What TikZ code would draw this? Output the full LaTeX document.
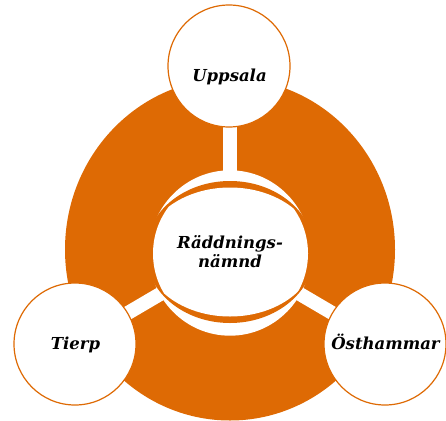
\documentclass[tikz,border=0pt]{standalone}
\usepackage{fontspec}
\setmainfont{DejaVu Serif}
\definecolor{org}{RGB}{222,106,4}
\tikzset{
  lbl/.style={font=\fontsize{16.5}{18.3}\selectfont\bfseries\itshape, text=black, inner sep=0pt},
  sat/.style={circle, draw=org, line width=1.2pt, fill=white, minimum size=122pt, inner sep=0pt},
  spoke/.style={draw=white, line width=14pt},
}
\begin{document}
\begin{tikzpicture}[x=1pt,y=-1pt]
\useasboundingbox (0,0) rectangle (446,420);
\coordinate (c) at (230,253);
\coordinate (cb) at (230,252);
\coordinate (u) at (229,66);
\coordinate (t) at (75,344);
\coordinate (o) at (385,344);
% big orange disc
\fill[org] (230,249.5) ellipse[x radius=165, y radius=171];
% white gap around the centre
\fill[white] (c) ellipse[x radius=81, y radius=82.7];
% white spokes
\draw[spoke] (c) -- (c |- u);
\draw[spoke] (c) -- (t);
\draw[spoke] (c) -- (o);
% orange band and centre
\fill[org] (cb) ellipse[x radius=84.5, y radius=71];
\begin{scope}
  \clip (230.5,253.5) circle[radius=77.5];
  \fill[white] (cb) ellipse[x radius=86, y radius=64.5];
\end{scope}
\node[lbl, align=center] (center) at (230,251.5) {Räddnings-\\nämnd};
% satellites
\node[sat] (uppsala) at (u) {};
\node[sat] (tierp) at (t) {};
\node[sat] (osthammar) at (o) {};
\node[lbl, anchor=base] (uppsalatxt) at (229.5,81) {Uppsala};
\node[lbl, anchor=base] (tierptxt) at (75.5,349) {Tierp};
\node[lbl, anchor=base] (osthammartxt) at (385.5,349) {Östhammar};
\end{tikzpicture}
\end{document}
